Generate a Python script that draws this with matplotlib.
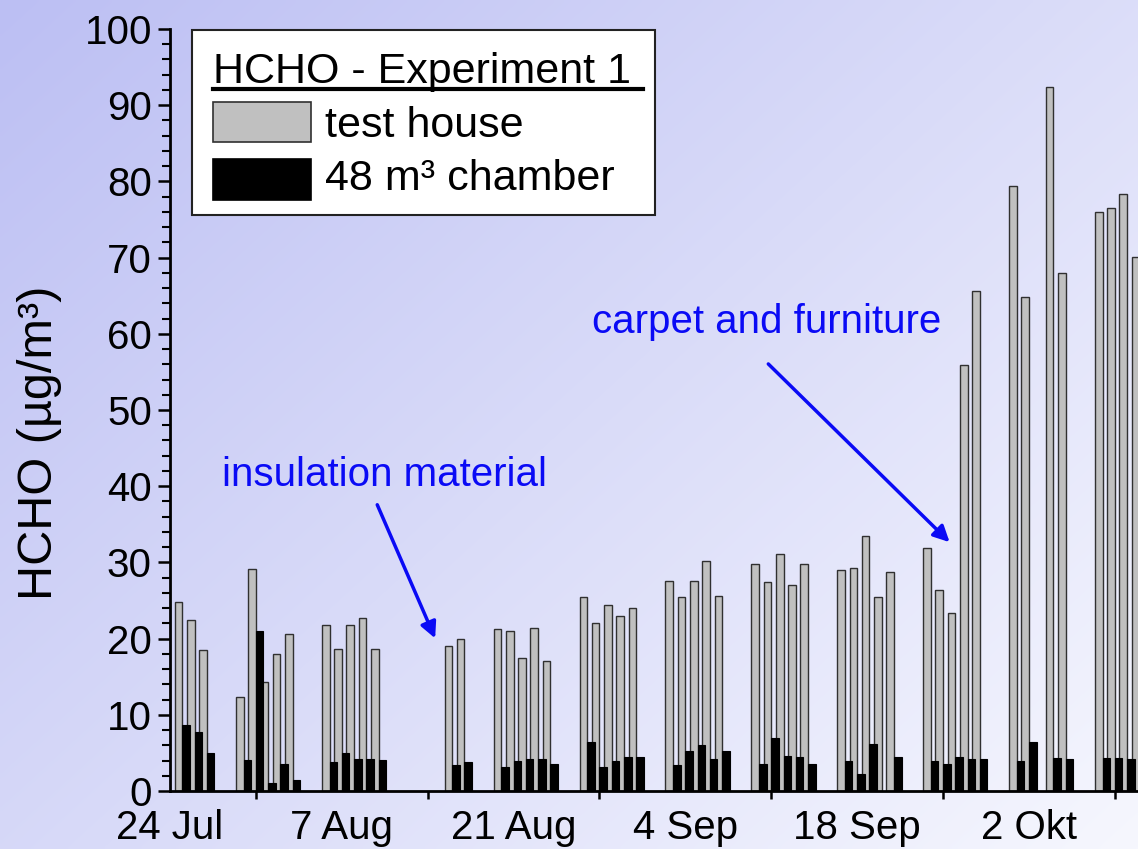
#!/usr/bin/env python3
# HCHO experiment 1: daily bars, test house (grey) vs 48 m3 chamber (black)
import numpy as np
import pandas as pd
import matplotlib
matplotlib.use("Agg")
import matplotlib.pyplot as plt
import matplotlib.dates as mdates
from matplotlib.patches import Rectangle
from matplotlib.ticker import MultipleLocator

plt.rcParams["font.family"] = ["Liberation Sans", "DejaVu Sans"]

dates = ["2007-07-25", "2007-07-26", "2007-07-27",
         "2007-07-30", "2007-07-31", "2007-08-01", "2007-08-02", "2007-08-03",
         "2007-08-06", "2007-08-07", "2007-08-08", "2007-08-09", "2007-08-10",
         "2007-08-16", "2007-08-17",
         "2007-08-20", "2007-08-21", "2007-08-22", "2007-08-23", "2007-08-24",
         "2007-08-27", "2007-08-28", "2007-08-29", "2007-08-30", "2007-08-31",
         "2007-09-03", "2007-09-04", "2007-09-05", "2007-09-06", "2007-09-07",
         "2007-09-10", "2007-09-11", "2007-09-12", "2007-09-13", "2007-09-14",
         "2007-09-17", "2007-09-18", "2007-09-19", "2007-09-20", "2007-09-21",
         "2007-09-24", "2007-09-25", "2007-09-26", "2007-09-27", "2007-09-28",
         "2007-10-01", "2007-10-02", "2007-10-04", "2007-10-05",
         "2007-10-08", "2007-10-09", "2007-10-10", "2007-10-11"]
test_house = [24.8, 22.4, 18.5,
              12.3, 29.1, 14.3, 18.0, 20.6,
              21.8, 18.7, 21.8, 22.7, 18.7,
              19.0, 20.0,
              21.2, 21.0, 17.4, 21.4, 17.1,
              25.4, 22.1, 24.4, 23.0, 24.0,
              27.6, 25.4, 27.6, 30.2, 25.6,
              29.8, 27.4, 31.1, 27.0, 29.8,
              29.0, 29.3, 33.5, 25.4, 28.8,
              31.9, 26.4, 23.3, 55.9, 65.6,
              79.4, 64.8, 92.4, 68.0,
              76.0, 76.5, 78.4, 70.1]
chamber = [8.7, 7.8, 5.0,
           4.1, 21.0, 1.1, 3.5, 1.5,
           3.8, 5.0, 4.2, 4.2, 4.1,
           3.4, 3.8,
           3.1, 4.0, 4.2, 4.2, 3.6,
           6.4, 3.2, 4.0, 4.4, 4.4,
           3.4, 5.2, 6.0, 4.2, 5.2,
           3.6, 7.0, 4.6, 4.4, 3.6,
           4.0, 2.2, 6.2, None, 4.4,
           4.0, 3.6, 4.4, 4.2, 4.2,
           4.0, 6.4, 4.3, 4.2,
           4.3, 4.3, 4.2, 4.3]
tick_labels = ["24 Jul", "7 Aug", "21 Aug", "4 Sep", "18 Sep", "2 Okt"]

W, H = 1138, 849
fig = plt.figure(figsize=(W / 100, H / 100), dpi=100)

# diagonal lavender -> white background over the whole figure
bg = fig.add_axes([0, 0, 1, 1], zorder=-10)
yy, xx = np.mgrid[0:1:200j, 0:1:300j]
t = (xx * 0.55 + yy * 0.45)[..., None]
c0 = np.array([188, 191, 243]) / 255
c1 = np.array([246, 247, 254]) / 255
bg.imshow(c0 + (c1 - c0) * t, aspect="auto", extent=[0, 1, 1, 0], interpolation="bilinear")
bg.axis("off")

x = mdates.date2num(pd.to_datetime(dates))
gray = np.array(test_house, dtype=float)
black = np.array([np.nan if v is None else v for v in chamber], dtype=float)
start = mdates.date2num(pd.Timestamp("2007-07-24"))

ax = fig.add_axes([170 / W, 1 - 791 / H, (W - 170) / W, (791 - 29) / H])
ax.patch.set_alpha(0)
bw = 0.62
ax.bar(x, gray, width=-bw, align="edge", color="#c0c0c0", edgecolor="#303030", lw=1.0, zorder=2)
ok = ~np.isnan(black)
ax.bar(x[ok], black[ok], width=bw, align="edge", color="black", edgecolor="black", lw=0.8, zorder=3)

ax.set_xlim(start, start + (W - 170) / 12.27)
ax.set_ylim(0, 100)
for s in ("top", "right"):
    ax.spines[s].set_visible(False)
for s in ("left", "bottom"):
    ax.spines[s].set_linewidth(2.0)

ax.yaxis.set_major_locator(MultipleLocator(10))
ax.yaxis.set_minor_locator(MultipleLocator(2))
ax.tick_params(axis="y", which="major", length=9, width=1.8, direction="out", labelsize=29, pad=4)
ax.tick_params(axis="y", which="minor", length=5.5, width=1.5, direction="out")

label_pos = start + 14 * np.arange(len(tick_labels))
ax.set_xticks(label_pos)
ax.set_xticklabels(tick_labels)
ax.set_xticks(label_pos + 7, minor=True)
ax.tick_params(axis="x", which="major", length=0, labelsize=29, pad=13)
ax.tick_params(axis="x", which="minor", length=6, width=1.8, direction="out")

ax.set_ylabel("HCHO (µg/m³)", fontsize=35)
ax.yaxis.set_label_coords((62 - 170) / (W - 170), (791 - 443) / (791 - 29))

blue = "#0a0af5"
ax.text(start + 4.2, 40.0, "insulation material", color=blue, fontsize=29)
ax.annotate("", xy=(start + 21.7, 19.7), xytext=(start + 16.8, 37.9),
            arrowprops=dict(arrowstyle="-|>", color=blue, lw=2.5, mutation_scale=24))
ax.text(start + 34.4, 60.1, "carpet and furniture", color=blue, fontsize=29)
ax.annotate("", xy=(start + 63.7, 32.4), xytext=(start + 48.6, 56.3),
            arrowprops=dict(arrowstyle="-|>", color=blue, lw=2.5, mutation_scale=24))

# hand-drawn legend box, in figure pixels
def fx(px): return px / W
def fy(py): return 1 - py / H

fig.patches.append(Rectangle((fx(192), fy(215)), fx(655) - fx(192), fy(30) - fy(215),
                             transform=fig.transFigure, facecolor="white",
                             edgecolor="#222222", lw=1.5, zorder=5))
fig.text(fx(213), fy(83), "HCHO - Experiment 1", fontsize=31, va="baseline", zorder=6)
fig.lines.append(plt.Line2D([fx(213), fx(643)], [fy(89), fy(89)], transform=fig.transFigure,
                            color="black", lw=3, zorder=6))
fig.patches.append(Rectangle((fx(213), fy(142)), fx(311) - fx(213), fy(102) - fy(142),
                             transform=fig.transFigure, facecolor="#c0c0c0",
                             edgecolor="#303030", lw=1.2, zorder=6))
fig.patches.append(Rectangle((fx(213), fy(200)), fx(311) - fx(213), fy(159) - fy(200),
                             transform=fig.transFigure, facecolor="black",
                             edgecolor="black", lw=1.2, zorder=6))
fig.text(fx(325), fy(137), "test house", fontsize=31, va="baseline", zorder=6)
fig.text(fx(325), fy(190), "48 m³ chamber", fontsize=31, va="baseline", zorder=6)

fig.savefig("out.png", dpi=100)
